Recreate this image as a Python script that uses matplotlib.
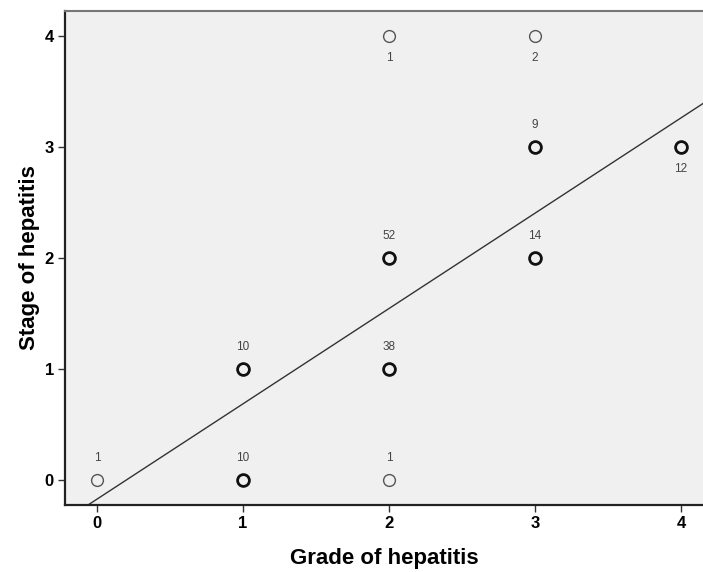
import numpy as np
import matplotlib
matplotlib.use("Agg")
import matplotlib.pyplot as plt

plt.rcParams['font.family'] = ['Liberation Sans', 'DejaVu Sans']

grade = [0, 1, 1, 2, 2, 2, 2, 3, 3, 3, 4]
stage = [0, 0, 1, 0, 1, 2, 4, 2, 3, 4, 3]
counts = [1, 10, 10, 1, 38, 52, 1, 14, 9, 2, 12]
label_below = [False, False, False, False, False, False, True, False, False, True, True]

x_ticks = [0, 1, 2, 3, 4]
y_ticks = [0, 1, 2, 3, 4]

fig = plt.figure(figsize=(7.03, 5.72), dpi=100)
ax = fig.add_axes([65/703, 67/572, 1 - 65/703 + 0.002, (505 - 11)/572])
ax.set_facecolor('#f0f0f0')

# Regression line (weighted least squares on the counts)
slope, intercept = np.polyfit(grade, stage, 1, w=np.sqrt(counts))
xl = np.array([-0.5, 4.5])
ax.plot(xl, intercept + slope * xl, color='#333333', lw=1.0, zorder=2)

for g, s, c, below in zip(grade, stage, counts, label_below):
    heavy = c >= 9
    ax.plot(g, s, 'o', ms=8.5, mfc='none',
            mec='#111111' if heavy else '#555555',
            mew=2.0 if heavy else 1.0, zorder=3)
    dy = -0.2 if below else 0.2
    ax.text(g, s + dy, str(c), ha='center', va='center', fontsize=8.5,
            color='#444444', zorder=4)

ax.set_xlim(-0.22, 4.16)
ax.set_ylim(-0.225, 4.225)
ax.set_xticks(x_ticks)
ax.set_yticks(y_ticks)
ax.tick_params(direction='out', length=5, width=1, color='#333333',
               labelsize=12, pad=3)
for lab in ax.get_xticklabels() + ax.get_yticklabels():
    lab.set_fontweight('bold')

for side in ['left', 'bottom']:
    ax.spines[side].set_linewidth(1.6)
    ax.spines[side].set_color('#222222')
ax.spines['top'].set_linewidth(1.5)
ax.spines['top'].set_color('#777777')
ax.spines['right'].set_visible(False)

ax.set_xlabel('Grade of hepatitis', fontsize=16, fontweight='bold', labelpad=12.5)
ax.set_ylabel('Stage of hepatitis', fontsize=16, fontweight='bold', labelpad=3)

fig.savefig('out.png', dpi=100)
